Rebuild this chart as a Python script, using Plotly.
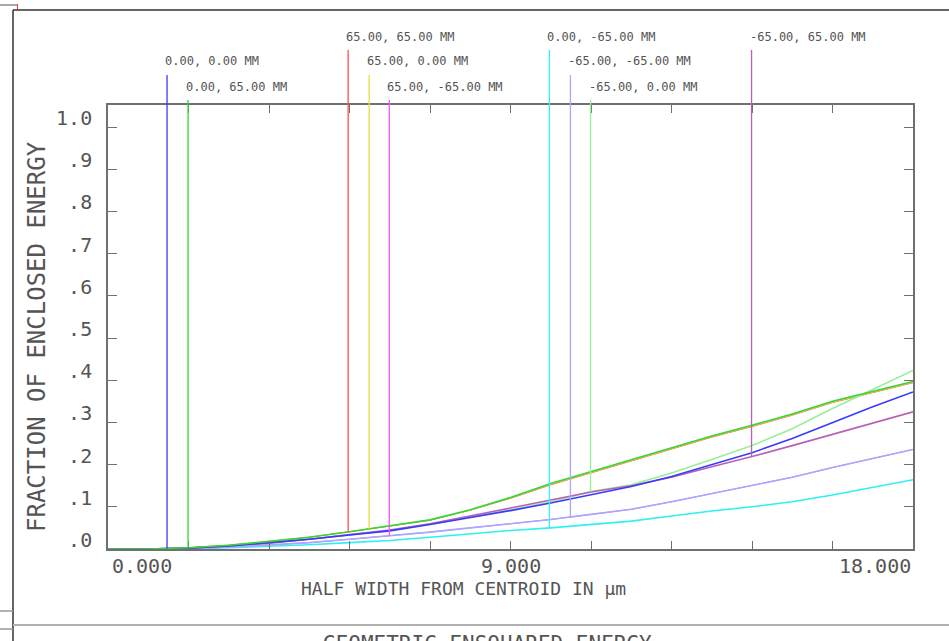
import numpy as np
import plotly.graph_objects as go

# ---------------- data ----------------
half_width = [0.0, 0.9, 1.8, 2.7, 3.6, 4.5, 5.4, 6.3, 7.2, 8.1, 9.0,
              9.9, 10.8, 11.7, 12.6, 13.5, 14.4, 15.3, 16.2, 17.1, 18.0]

field_labels = ["0.00, 0.00 MM", "0.00, 65.00 MM", "65.00, 65.00 MM",
                "65.00, 0.00 MM", "65.00, -65.00 MM", "0.00, -65.00 MM",
                "-65.00, -65.00 MM", "-65.00, 0.00 MM", "-65.00, 65.00 MM"]
field_colors = ["#3a3aff", "#33d633", "#ff5050", "#e6dc40", "#ff50ff",
                "#30f0f0", "#a8a8ff", "#98f098", "#b860b8"]
marker_x = [1.32, 1.79, 5.37, 5.84, 6.29, 9.87, 10.34, 10.79, 14.39]
label_row = [1, 2, 0, 1, 2, 0, 1, 2, 0]

ee_f1 = [0, 0, 0.002, 0.007, 0.015, 0.023, 0.033, 0.043, 0.058, 0.074, 0.091,
         0.109, 0.129, 0.148, 0.172, 0.200, 0.228, 0.262, 0.300, 0.337, 0.372]
ee_f2 = [0, 0, 0.003, 0.009, 0.018, 0.028, 0.041, 0.055, 0.069, 0.093, 0.122,
         0.155, 0.183, 0.212, 0.240, 0.268, 0.293, 0.320, 0.350, 0.373, 0.397]
ee_f3 = [0, 0, 0.003, 0.009, 0.017, 0.028, 0.041, 0.054, 0.068, 0.092, 0.120,
         0.152, 0.180, 0.209, 0.237, 0.265, 0.290, 0.317, 0.347, 0.370, 0.394]
ee_f4 = [0, 0, 0.003, 0.009, 0.018, 0.028, 0.041, 0.055, 0.069, 0.092, 0.121,
         0.153, 0.181, 0.210, 0.238, 0.266, 0.291, 0.318, 0.348, 0.371, 0.395]
ee_f5 = [0, 0, 0.001, 0.004, 0.009, 0.015, 0.023, 0.031, 0.040, 0.050, 0.060,
         0.070, 0.082, 0.094, 0.112, 0.131, 0.150, 0.170, 0.193, 0.215, 0.236]
ee_f6 = [0, 0, 0.001, 0.003, 0.006, 0.010, 0.015, 0.020, 0.028, 0.036, 0.044,
         0.050, 0.058, 0.066, 0.078, 0.090, 0.100, 0.112, 0.128, 0.146, 0.164]
ee_f7 = [0, 0, 0.001, 0.004, 0.009, 0.015, 0.023, 0.031, 0.040, 0.050, 0.060,
         0.070, 0.082, 0.094, 0.112, 0.131, 0.150, 0.170, 0.193, 0.215, 0.236]
ee_f8 = [0, 0, 0.002, 0.007, 0.015, 0.023, 0.033, 0.044, 0.059, 0.076, 0.093,
         0.112, 0.136, 0.152, 0.180, 0.212, 0.245, 0.285, 0.333, 0.378, 0.423]
ee_f9 = [0, 0, 0.002, 0.007, 0.014, 0.023, 0.034, 0.045, 0.060, 0.078, 0.097,
         0.116, 0.135, 0.150, 0.170, 0.195, 0.219, 0.245, 0.272, 0.298, 0.325]

curves = [ee_f1, ee_f2, ee_f3, ee_f4, ee_f5, ee_f6, ee_f7, ee_f8, ee_f9]
draw_order = [2, 3, 4, 5, 6, 7, 8, 0, 1]
hidden_fields = [2, 3, 4]

x_tick_vals = [0, 9, 18]
x_tick_text = ["0.000", "9.000", "18.000"]
y_tick_vals = [0, 0.1, 0.2, 0.3, 0.4, 0.5, 0.6, 0.7, 0.8, 0.9, 1.0]
y_tick_text = [".0", ".1", ".2", ".3", ".4", ".5", ".6", ".7", ".8", ".9", "1.0"]

x_title = "HALF WIDTH FROM CENTROID IN \u03bcm"
y_title = "FRACTION OF ENCLOSED ENERGY"
bottom_title = "GEOMETRIC ENSQUARED ENERGY"

# ---------------- layout geometry ----------------
W, H = 949, 641
L, R, T, B = 108, 913, 105, 549
XMAX = 18.0
YMAX = (B - T) / 422.0
FONT = "DejaVu Sans Mono"
TXT = "#555555"


def px(x):
    return (x - L) / (R - L)


def py(y):
    return (B - y) / (B - T)


fig = go.Figure()
for i in draw_order:
    fig.add_trace(go.Scatter(x=half_width, y=curves[i], mode="lines",
                             line=dict(color=field_colors[i],
                                       width=1.0 if i in hidden_fields else 1.6),
                             name=field_labels[i], showlegend=False,
                             hoverinfo="skip"))

shapes = []
annotations = []

row_text_y = [37, 61, 87]
row_line_top = [50, 75, 100]
for i in range(len(field_labels)):
    xm = marker_x[i]
    yb = float(np.interp(xm, half_width, curves[i]))
    xp = xm / XMAX
    shapes.append(dict(type="line", xref="paper", yref="paper",
                       x0=xp, x1=xp, y0=yb / YMAX, y1=py(row_line_top[label_row[i]]),
                       line=dict(color=field_colors[i], width=1.3)))
    annotations.append(dict(xref="paper", yref="paper", x=xp,
                            y=py(row_text_y[label_row[i]]), xanchor="left",
                            yanchor="middle", xshift=-4, showarrow=False,
                            text=field_labels[i],
                            font=dict(family=FONT, size=12, color=TXT)))

# x tick labels
anchors = ["left", "center", "right"]
for v, t, a in zip(x_tick_vals, x_tick_text, anchors):
    annotations.append(dict(xref="paper", yref="paper", x=v / XMAX, y=py(566),
                            xanchor=a, yanchor="middle", showarrow=False, text=t,
                            xshift=2 if a == "left" else 0,
                            font=dict(family=FONT, size=20, color=TXT)))

# axis titles
annotations.append(dict(xref="paper", yref="paper", x=px(463), y=py(588),
                        xanchor="center", yanchor="middle", showarrow=False,
                        text=x_title, font=dict(family=FONT, size=18, color=TXT)))
annotations.append(dict(xref="paper", yref="paper", x=px(37), y=py(337),
                        xanchor="center", yanchor="middle", showarrow=False,
                        textangle=-90, text=y_title,
                        font=dict(family=FONT, size=24, color=TXT)))
annotations.append(dict(xref="paper", yref="paper", x=px(487), y=py(630),
                        xanchor="center", yanchor="top", showarrow=False,
                        text=bottom_title,
                        font=dict(family=FONT, size=21, color=TXT)))


# page frame decorations
def hline(y, x0, x1, color, width):
    shapes.append(dict(type="line", xref="paper", yref="paper",
                       x0=px(x0), x1=px(x1), y0=py(y), y1=py(y),
                       line=dict(color=color, width=width)))


def vline(x, y0, y1, color, width):
    shapes.append(dict(type="line", xref="paper", yref="paper",
                       x0=px(x), x1=px(x), y0=py(y0), y1=py(y1),
                       line=dict(color=color, width=width)))


vline(13, 10, 641, "#333333", 1.5)
hline(10, 13, 949, "#333333", 1.5)
hline(5, 0, 17, "#555555", 1)
vline(17.5, 4, 9, "#ff3030", 1)
hline(625, 13, 949, "#b0b0b0", 2)
hline(611, 0, 13, "#999999", 1.5)
hline(629, 0, 13, "#999999", 1.5)

fig.update_layout(
    width=W, height=H,
    margin=dict(l=L, r=W - R, t=T, b=H - B, pad=0),
    paper_bgcolor="white", plot_bgcolor="white",
    shapes=shapes, annotations=annotations,
    xaxis=dict(range=[0, XMAX], tick0=0, dtick=1.8, ticks="inside",
               ticklen=8, tickwidth=1.2, tickcolor="#707070",
               showticklabels=False, showgrid=False, zeroline=False,
               showline=True, linecolor="#707070", linewidth=1.6,
               mirror="ticks"),
    yaxis=dict(range=[0, YMAX], tickvals=y_tick_vals, ticktext=y_tick_text,
               ticks="inside", ticklen=9, tickwidth=1.2, tickcolor="#707070",
               showgrid=False, zeroline=False, showline=True,
               linecolor="#707070", linewidth=1.6, mirror="ticks",
               ticklabelshift=-9, ticklabelstandoff=10,
               tickfont=dict(family=FONT, size=20, color=TXT)),
)

fig.write_html("out.html")
